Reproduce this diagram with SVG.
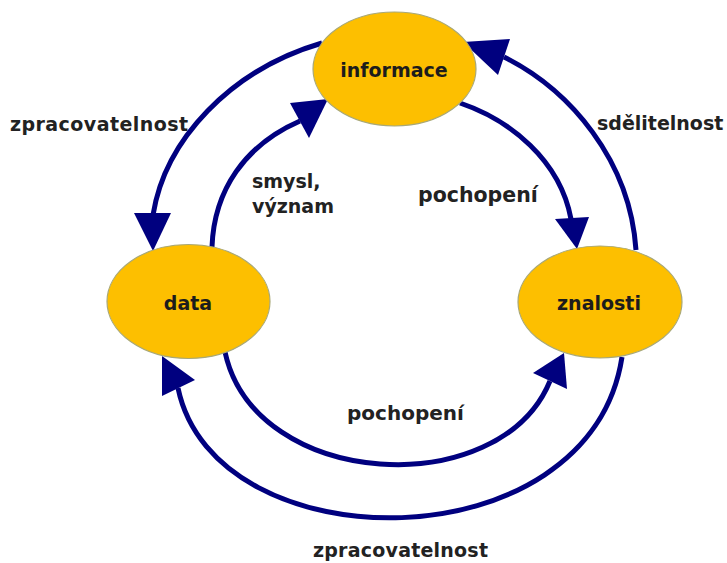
<svg xmlns="http://www.w3.org/2000/svg" width="727" height="563" viewBox="0 0 727 563">
<style>
.node{fill:#FDBF00;stroke:#A8A878;stroke-width:1.2}
.ntext{font-family:"DejaVu Sans",Verdana,sans-serif;font-weight:bold;font-size:19px;fill:#1c1c1c;text-anchor:middle}
.lbl{font-family:"DejaVu Sans",Verdana,sans-serif;font-weight:bold;font-size:19px;fill:#222;}
.edge{fill:none;stroke:#00007F;stroke-width:5}
.head{fill:#00007F;stroke:none}
</style>
<rect width="727" height="563" fill="#fff"/>
<g id="connectors">
  <path class="edge" d="M322,43 C230,70 165,140 153,215"/>
  <polygon class="head" points="134,213 171,213 153,251"/>
  <path class="edge" d="M212,247 C214,190 245,145 300,121"/>
  <polygon class="head" points="290,103 328,99 309,138"/>
  <path class="edge" d="M460,103 C510,120 560,160 571,219"/>
  <polygon class="head" points="555,219 589,217 577,249"/>
  <path class="edge" d="M636,250 C630,160 570,90 504,57"/>
  <polygon class="head" points="463,42 510,39 498,75"/>
  <path class="edge" d="M225,352 C255,490 500,503 550,381"/>
  <polygon class="head" points="564,353 533,373 567,389"/>
  <path class="edge" d="M622,357 C590,566 215,566 178,388"/>
  <polygon class="head" points="162,356 195,380 162,396"/>
</g>
<g id="node-informace">
  <ellipse class="node" cx="394.5" cy="69" rx="81.5" ry="57"/>
  <text class="ntext" x="394" y="77">informace</text>
</g>
<g id="node-data">
  <ellipse class="node" cx="188.5" cy="301.5" rx="81.5" ry="57"/>
  <text class="ntext" x="188" y="310">data</text>
</g>
<g id="node-znalosti">
  <ellipse class="node" cx="600" cy="302" rx="82" ry="56"/>
  <text class="ntext" x="599" y="310">znalosti</text>
</g>
<g id="labels">
  <text class="lbl" x="10" y="131" textLength="178">zpracovatelnost</text>
  <text class="lbl" x="597" y="130">sdělitelnost</text>
  <text class="lbl" x="252" y="188">smysl,</text>
  <text class="lbl" x="252" y="213">význam</text>
  <text class="lbl" x="418" y="202" style="font-size:20.5px">pochopení</text>
  <text class="lbl" x="347" y="420" style="font-size:20px">pochopení</text>
  <text class="lbl" x="313" y="557" textLength="175">zpracovatelnost</text>
</g>
</svg>
